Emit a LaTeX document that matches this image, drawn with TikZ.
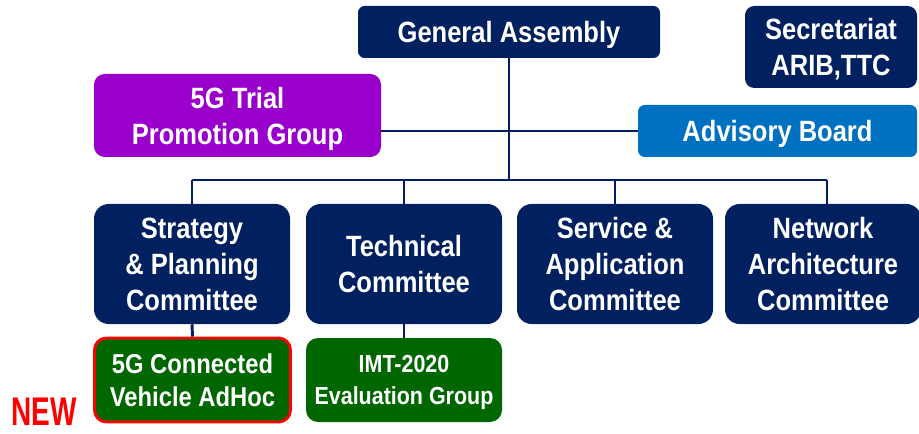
\documentclass[tikz,border=0pt]{standalone}
\usepackage{fontspec}
\setmainfont{Liberation Sans}[FakeStretch=0.87]
\newfontfamily\narrowfont{Liberation Sans}[FakeStretch=0.7]
\usepackage{tikz}

\definecolor{navy}{RGB}{0,32,96}
\definecolor{trialpurple}{RGB}{153,0,204}
\definecolor{boardblue}{RGB}{0,112,192}
\definecolor{groupgreen}{RGB}{0,102,0}

\begin{document}
\begin{tikzpicture}[x=0.75pt,y=0.75pt,yscale=-1,
    box/.style={fill=navy, text=white, align=center, inner sep=0pt, text depth=0pt,
        font=\bfseries\fontsize{22}{27}\selectfont},
    subbox/.style={box, fill=groupgreen, rounded corners=9pt,
        minimum width=147pt, minimum height=63pt,
        font=\bfseries\fontsize{19}{24.5}\selectfont},
    committee/.style={box, rounded corners=11pt, minimum width=147pt, minimum height=90pt},
    link/.style={draw=navy, line width=2.2pt}]
        \useasboundingbox (0,0) rectangle (919,434);

        % top row
        \node [box, rounded corners=5pt, minimum width=226.5pt, minimum height=39pt] (ga) at (509,32) {General Assembly};
        \node [box, rounded corners=7pt, minimum width=129pt, minimum height=61.5pt] (sec) at (831,47) {Secretariat\\ARIB,TTC};
        \node [box, fill=trialpurple, rounded corners=8pt, minimum width=215.25pt, minimum height=62.25pt] (trial) at (237.5,115.5) {5G Trial\\Promotion Group};
        \node [box, fill=boardblue, rounded corners=5pt, minimum width=209.25pt, minimum height=39pt] (board) at (777.5,131) {Advisory Board};

        % committees
        \node [committee] (strat) at (192,264) {Strategy\\\& Planning\\Committee};
        \node [committee] (tech) at (404,264) {Technical\\Committee};
        \node [committee] (serv) at (615,264) {Service \&\\Application\\Committee};
        \node [committee] (net) at (823,264) {Network\\Architecture\\Committee};

        % groups below
        \node [subbox, draw=red, line width=2.2pt, font=\bfseries\fontsize{20.5}{25}\selectfont] (adhoc) at (192.5,380) {5G Connected\\Vehicle AdHoc};
        \node [subbox, font=\bfseries\fontsize{18.5}{24}\selectfont] (imt) at (404,380) {IMT-2020\\Evaluation Group};
        \node [text=red, inner sep=0pt, text depth=0pt, font=\narrowfont\bfseries\fontsize{30}{30}\selectfont] (new) at (44,412) {NEW};

        % bus and connectors
        \coordinate (busL) at (192,180);
        \coordinate (busR) at (827,180);
        \draw [link] (busL) -- (busR);
        \draw [link] (ga.south) -- (ga.south |- busL);
        \draw [link] (board.west -| trial.east) -- (board.west);
        \foreach \c in {strat,tech,serv}
            \draw [link] (\c.north) -- (\c.north |- busL);
        \draw [link] (busR) -- (busR |- net.north);
        \draw [link] (strat.south) -- (adhoc.north);
        \draw [link] (tech.south) -- (imt.north);
\end{tikzpicture}
\end{document}
